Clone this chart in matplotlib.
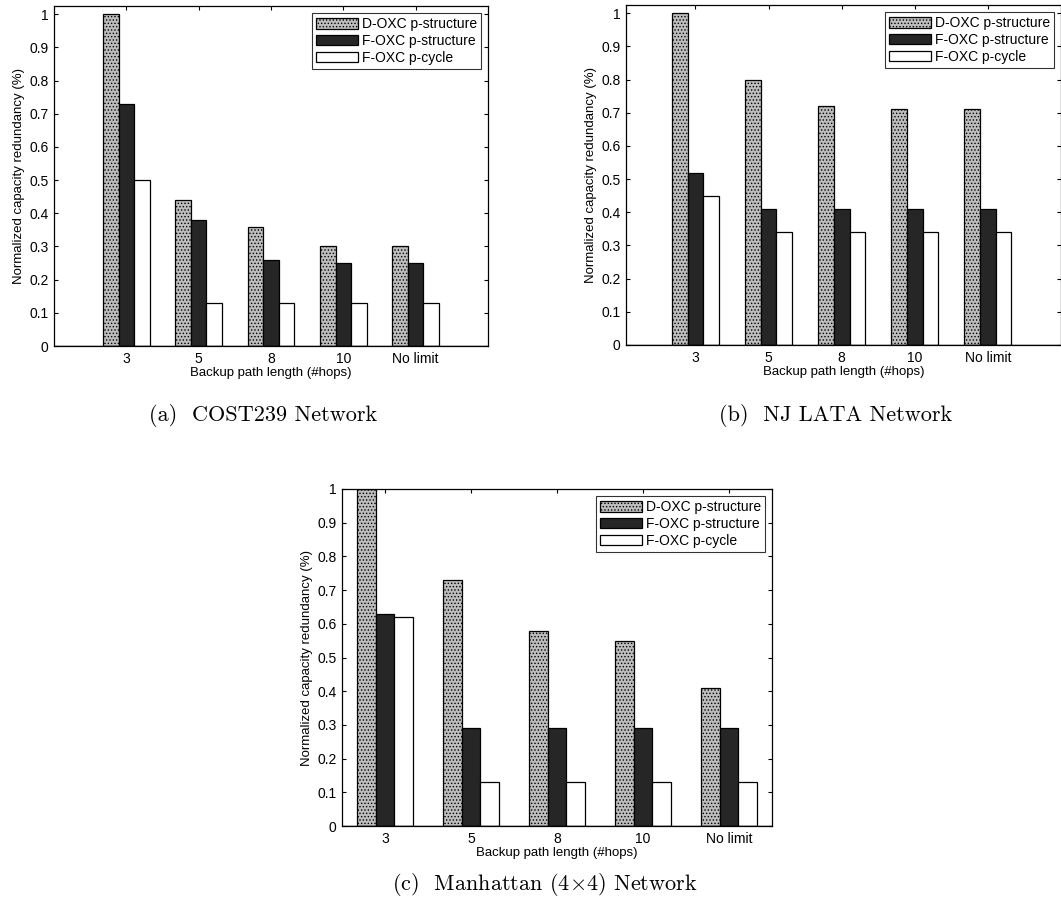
import matplotlib
matplotlib.use("Agg")
import matplotlib.pyplot as plt
import numpy as np

plt.rcParams['font.family'] = ['Liberation Sans', 'DejaVu Sans']
plt.rcParams['mathtext.fontset'] = 'cm'
plt.rcParams['hatch.linewidth'] = 0.6

categories = ["3", "5", "8", "10", "No limit"]
series_names = ["D-OXC p-structure", "F-OXC p-structure", "F-OXC p-cycle"]

cost239_d_pstruct = [1.00, 0.44, 0.36, 0.30, 0.30]
cost239_f_pstruct = [0.73, 0.38, 0.26, 0.25, 0.25]
cost239_f_pcycle = [0.50, 0.13, 0.13, 0.13, 0.13]

njlata_d_pstruct = [1.00, 0.80, 0.72, 0.71, 0.71]
njlata_f_pstruct = [0.52, 0.41, 0.41, 0.41, 0.41]
njlata_f_pcycle = [0.45, 0.34, 0.34, 0.34, 0.34]

manhattan_d_pstruct = [1.00, 0.73, 0.58, 0.55, 0.41]
manhattan_f_pstruct = [0.63, 0.29, 0.29, 0.29, 0.29]
manhattan_f_pcycle = [0.62, 0.13, 0.13, 0.13, 0.13]

yticks = [0, 0.1, 0.2, 0.3, 0.4, 0.5, 0.6, 0.7, 0.8, 0.9, 1.0]
ytick_labels = ["0", "0.1", "0.2", "0.3", "0.4", "0.5", "0.6", "0.7", "0.8", "0.9", "1"]

captions = ["(a)  COST239 Network", "(b)  NJ LATA Network",
            r"(c)  Manhattan (4$\times$4) Network"]

W, H = 1061, 908
fig = plt.figure(figsize=(W / 100, H / 100), dpi=100)
fig.patch.set_facecolor("white")


def px_axes(left, top, right, bottom):
    return fig.add_axes([left / W, 1 - bottom / H, (right - left) / W, (bottom - top) / H])


bar_styles = [
    dict(facecolor="#bdbdbd", hatch="....."),
    dict(facecolor="#262626", hatch=None),
    dict(facecolor="white", hatch=None),
]


def grouped_bars(ax, data, xlim, ylim_top, ylabel):
    x = np.arange(1, len(categories) + 1)
    width = 0.215
    offsets = [-width, 0.0, width]
    for vals, off, name, st in zip(data, offsets, series_names, bar_styles):
        ax.bar(x + off, vals, width, label=name, facecolor=st["facecolor"],
               hatch=st["hatch"], edgecolor="black", linewidth=0.9, zorder=2)
    ax.axhline(0, color="black", linewidth=1.0, zorder=3)
    ax.set_xlim(*xlim)
    ax.set_ylim(0, ylim_top)
    ax.set_xticks(x)
    ax.set_xticklabels(categories)
    ax.set_yticks(yticks)
    ax.set_yticklabels(ytick_labels)
    ax.tick_params(direction="in", top=True, right=True, length=3, width=0.8,
                   labelsize=10, pad=4)
    for s in ax.spines.values():
        s.set_linewidth(0.9)
    ax.set_xlabel("Backup path length (#hops)", fontsize=9.5, labelpad=1)
    ax.set_ylabel(ylabel, fontsize=9.5, labelpad=3)
    leg = ax.legend(loc="upper right", fontsize=10, frameon=True, fancybox=False,
                    edgecolor="black", borderaxespad=0.5, handlelength=3.0,
                    handleheight=0.8, handletextpad=0.3, labelspacing=0.2,
                    borderpad=0.3)
    leg.get_frame().set_linewidth(0.8)


ax_a = px_axes(54, 6, 488, 346)
grouped_bars(ax_a, [cost239_d_pstruct, cost239_f_pstruct, cost239_f_pcycle],
             (0, 6), 1.025, "Normalized capacity redundancy (%)")

ax_b = px_axes(626, 5, 1061, 345)
grouped_bars(ax_b, [njlata_d_pstruct, njlata_f_pstruct, njlata_f_pcycle],
             (0.05, 6.0), 1.025, "Normalized capacity redundancy (%)")

ax_c = px_axes(342, 489, 772, 826)
grouped_bars(ax_c, [manhattan_d_pstruct, manhattan_f_pstruct, manhattan_f_pcycle],
             (0.5, 5.5), 1.0, "Normalized capacity redundancy (%)")

cap_font = dict(family="cmr10", fontsize=16, ha="center", va="center")
fig.text(263 / W, 1 - 415 / H, captions[0], **cap_font)
fig.text(836 / W, 1 - 415 / H, captions[1], **cap_font)
fig.text(545 / W, 1 - 885 / H, captions[2], **cap_font)

fig.savefig("out.png", dpi=100)
